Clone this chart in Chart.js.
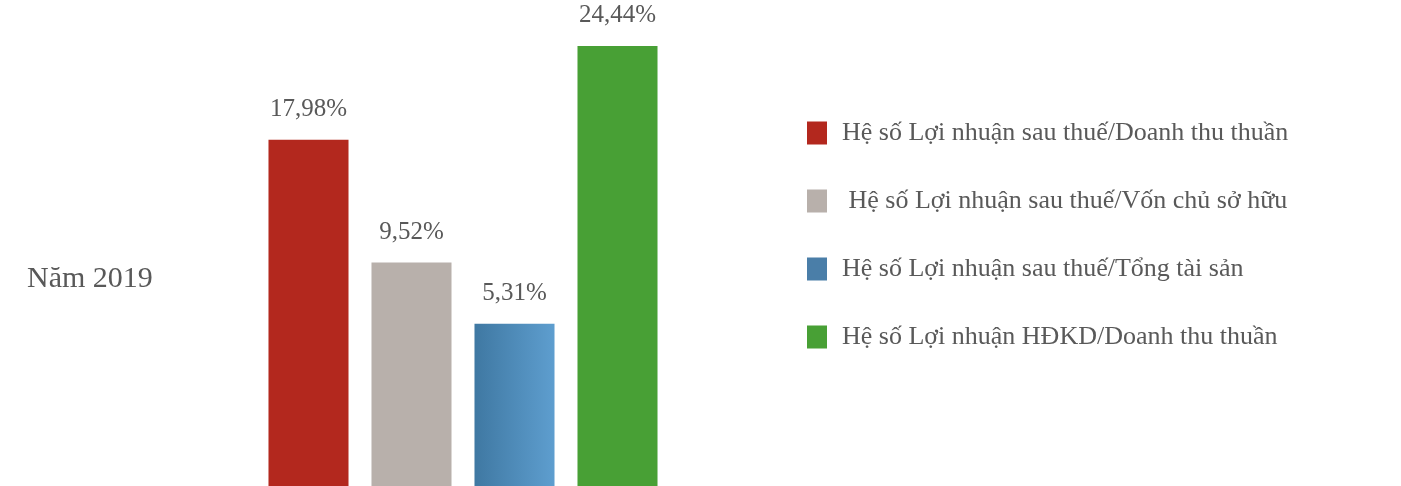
<!DOCTYPE html>
<html lang="vi">
  <head>
    <meta charset="UTF-8" />
    <title>Năm 2019</title>
    <script src="https://cdn.jsdelivr.net/npm/chart.js"></script>
    <style>
      * {
        margin: 0;
        padding: 0;
        box-sizing: border-box;
      }
      body {
        background: #fff;
        width: 1401px;
        height: 486px;
        overflow: hidden;
      }
      .wrap {
        position: relative;
        width: 1401px;
        height: 486px;
      }
    </style>
  </head>
  <body>
    <div class="wrap"><canvas id="chart"></canvas></div>
    <script>
      const categories = ["Năm 2019"];
      const seriesNames = [
        "Hệ số Lợi nhuận sau thuế/Doanh thu thuần",
        " Hệ số Lợi nhuận sau thuế/Vốn chủ sở hữu",
        "Hệ số Lợi nhuận sau thuế/Tổng tài sản",
        "Hệ số Lợi nhuận HĐKD/Doanh thu thuần",
      ];
      const seriesValues = [17.98, 9.52, 5.31, 24.44];
      const seriesColors = ["#b3281e", "#b8b0ab", "#4a7ea8", "#48a035"];

      const yMin = -5.87;
      const yMax = 27.6;
      const font = '"Liberation Serif", "DejaVu Serif", serif';
      const textColor = "#595959";

      // blue bar is shaded left to right
      function blueGradient(context) {
        const chart = context.chart;
        const area = chart.chartArea;
        if (!area) return seriesColors[2];
        const slot = (area.right - area.left) / seriesValues.length;
        const x0 = area.left + slot * 2;
        const g = chart.ctx.createLinearGradient(x0 + slot * 0.11, 0, x0 + slot * 0.89, 0);
        g.addColorStop(0, "#3f78a2");
        g.addColorStop(1, "#5e9ecf");
        return g;
      }

      const datasets = seriesNames.map((name, i) => ({
        label: name,
        data: [seriesValues[i]],
        backgroundColor: i === 2 ? blueGradient : seriesColors[i],
        borderWidth: 0,
        base: yMin,
      }));

      const extras = {
        id: "extras",
        afterDatasetsDraw(chart) {
          const ctx = chart.ctx;
          ctx.save();
          ctx.fillStyle = textColor;
          ctx.font = "25px " + font;
          ctx.textAlign = "center";
          ctx.textBaseline = "middle";
          chart.data.datasets.forEach((ds, i) => {
            const bar = chart.getDatasetMeta(i).data[0];
            const txt = ds.data[0].toFixed(2).replace(".", ",") + "%";
            ctx.fillText(txt, bar.x, bar.y - 30);
          });

          ctx.font = "30px " + font;
          ctx.textAlign = "left";
          ctx.fillText(categories[0], 27, 279);

          ctx.font = "26px " + font;
          chart.data.datasets.forEach((ds, i) => {
            const cy = 133 + i * 68;
            ctx.fillStyle = seriesColors[i];
            ctx.fillRect(807, cy - 11.5, 20, 23);
            ctx.fillStyle = textColor;
            ctx.fillText(ds.label, 842, cy);
          });
          ctx.restore();
        },
      };

      new Chart(document.getElementById("chart"), {
        type: "bar",
        data: { labels: categories, datasets: datasets },
        options: {
          responsive: true,
          maintainAspectRatio: false,
          animation: false,
          layout: { padding: { left: 257, right: 732, top: 0, bottom: 0 } },
          datasets: { bar: { barPercentage: 0.777, categoryPercentage: 1 } },
          scales: {
            x: { display: false },
            y: { display: false, min: yMin, max: yMax },
          },
          plugins: {
            legend: { display: false },
            tooltip: { enabled: false },
          },
        },
        plugins: [extras],
      });
    </script>
  </body>
</html>
